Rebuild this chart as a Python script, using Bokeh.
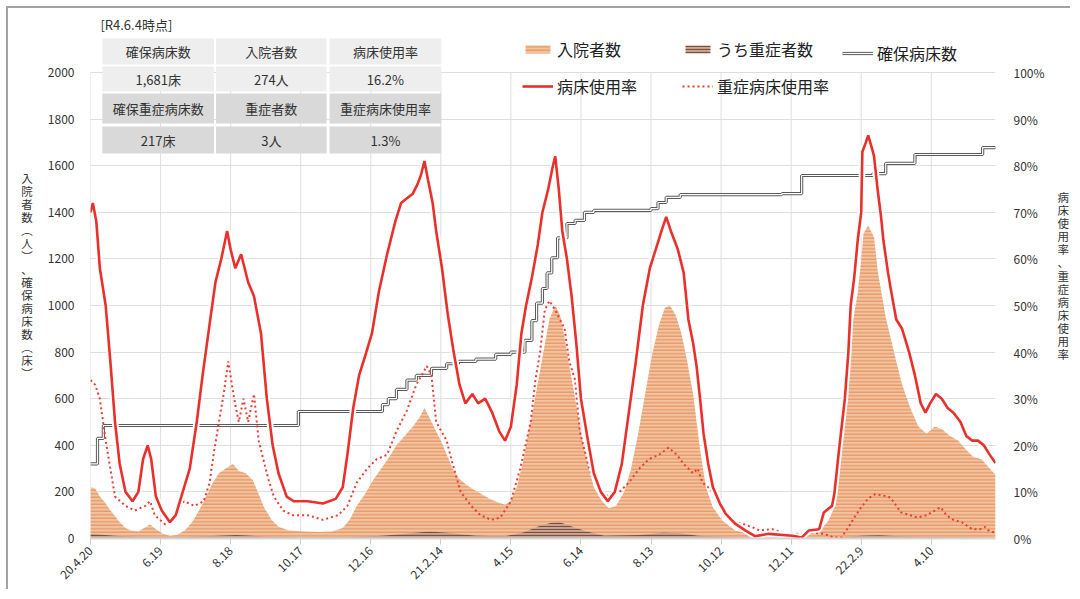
import math
from bokeh.plotting import figure
from bokeh.models import (Range1d, LinearAxis, FixedTicker, PrintfTickFormatter,
                          Legend, LegendItem, ColumnDataSource)
from bokeh.core.properties import value
from bokeh.embed import file_html
from bokeh.resources import INLINE

FONT = "Noto Sans CJK JP"

# ------------------------------------------------------------------ data
# x = days since 2020-04-20
tick_days = [0, 60, 120, 180, 240, 300, 360, 420, 480, 540, 600, 660, 720]
tick_labels = ["20.4.20", "6.19", "8.18", "10.17", "12.16", "21.2.14", "4.15",
               "6.14", "8.13", "10.12", "12.11", "22.2.9", "4.10"]

# 入院者数 (persons)
inpatient_day = [0, 4, 8, 13, 17, 21, 25, 30, 34, 41, 46, 51, 56, 62, 68, 74, 81, 87, 93, 99,
                 105, 110, 116, 122, 127, 133, 139, 144, 149, 155, 161, 169, 182, 195, 207,
                 216, 222, 228, 235, 242, 249, 256, 262, 269, 276, 282, 286, 290, 294, 300,
                 305, 310, 315, 322, 328, 335, 342, 349, 355, 360, 365, 370, 375, 380, 385,
                 389, 393, 398, 402, 406, 410, 415, 420, 425, 431, 438, 444, 450, 457, 463,
                 469, 475, 481, 487, 492, 496, 501, 506, 511, 516, 522, 527, 533, 541, 552,
                 565, 590, 610, 626, 632, 637, 640, 646, 651, 657, 660, 662, 666, 671, 674,
                 677, 681, 689, 695, 702, 709, 716, 723, 729, 736, 743, 750, 756, 763, 770, 775]
inpatient = [220, 215, 180, 150, 120, 95, 70, 45, 35, 30, 45, 60, 40, 20, 12, 15, 35, 70, 120, 180,
             240, 280, 300, 320, 290, 280, 250, 190, 130, 80, 50, 35, 30, 28, 30,
             45, 80, 140, 190, 250, 300, 350, 400, 440, 480, 520, 560, 520, 480, 420,
             360, 300, 260, 230, 210, 190, 170, 155, 145, 160, 220, 320, 450, 580, 720,
             830, 940, 1000, 960, 860, 740, 600, 450, 330, 220, 160, 130, 140, 200, 300,
             450, 620, 790, 920, 990, 1000, 960, 880, 760, 620, 380, 220, 133, 77, 34,
             18, 12, 15, 40, 77, 133, 219, 549, 880, 1050, 1193, 1309, 1343, 1292, 1150,
             1064, 948, 780, 660, 560, 480, 450, 480, 470, 440, 420, 380, 350, 340, 300, 274]

# うち重症者数 (persons)
severe_day = [0, 20, 40, 80, 110, 125, 150, 180, 220, 250, 270, 290, 305, 330, 355, 370, 385,
              395, 402, 410, 425, 440, 470, 490, 505, 520, 545, 600, 640, 660, 675, 700, 740, 775]
severe = [20, 12, 6, 5, 12, 15, 8, 4, 5, 12, 20, 30, 25, 12, 10, 25, 55,
          68, 70, 55, 30, 12, 15, 25, 22, 12, 5, 2, 3, 12, 14, 8, 5, 3]

# 確保病床数 (beds, step changes)
beds_day = [0, 6, 11, 178, 250, 255, 262, 271, 279, 292, 305, 315, 330, 347, 360, 372, 378,
            382, 387, 391, 395, 400, 408, 415, 423, 431, 480, 486, 493, 505, 592, 609, 670,
            681, 706, 764, 775]
beds = [320, 430, 485, 545, 575, 600, 640, 680, 700, 730, 750, 760, 770, 790, 800, 850, 935,
        1010, 1073, 1140, 1205, 1290, 1352, 1365, 1400, 1408, 1416, 1442, 1464, 1476, 1480, 1558, 1566,
        1610, 1648, 1678, 1681]

# 病床使用率 (%)
usage_day = [0, 2, 5, 8, 13, 17, 21, 25, 30, 36, 41, 45, 49, 52, 56, 61, 68, 73, 79, 85, 91, 96,
             102, 107, 112, 117, 120, 124, 129, 135, 140, 146, 151, 156, 161, 168, 174, 186,
             199, 210, 216, 220, 225, 230, 235, 241, 247, 254, 261, 266, 271, 276, 280, 283,
             286, 289, 293, 296, 301, 306, 311, 316, 321, 327, 332, 338, 344, 350, 355, 360,
             365, 369, 373, 378, 383, 387, 392, 396, 398, 401, 404, 408, 412, 416, 420, 426,
             431, 437, 443, 449, 455, 461, 467, 473, 479, 484, 489, 493, 497, 503, 508, 512,
             516, 519, 522, 525, 529, 533, 539, 544, 552, 561, 569, 581, 601, 609, 615, 624,
             628, 635, 637, 641, 646, 649, 651, 654, 657, 660, 661, 664, 666, 670, 671, 674,
             677, 679, 683, 685, 690, 695, 701, 706, 711, 715, 719, 724, 729, 734, 739, 745,
             750, 755, 760, 765, 770, 775]
usage = [70, 72, 68, 58, 50, 38, 25, 16, 10, 8, 10, 17, 20, 17, 9, 6, 3.5, 5, 10, 15, 25, 35,
         46, 55, 60, 66, 62, 58, 61, 55, 52, 44, 30, 20, 14, 9, 8, 8,
         7.5, 8.5, 11, 18, 28, 35, 39, 44, 53, 61, 68, 72, 73, 74, 76, 78,
         81, 77, 72, 66, 58, 48, 40, 33, 29, 31, 29, 30, 27, 23, 21, 24,
         33, 44, 50, 56, 63, 70, 75, 80, 82, 75, 66, 60, 52, 42, 30, 21,
         14, 10, 8, 10, 16, 27, 38, 50, 58, 62, 66, 69, 66, 62, 57, 47,
         42, 37, 30, 22.5, 16, 11, 7.5, 5.3, 3.2, 1.7, 0.5, 1, 0.6, 0.2, 1.7, 2,
         5.6, 7, 9.6, 19, 30, 40, 50, 56, 64, 70, 83, 85, 86.5, 83, 82, 75,
         69, 64, 57, 54, 47, 45, 40, 35, 29, 27, 29, 31, 30, 28, 27, 25,
         22, 21, 21, 20, 18, 16.2]

# 重症病床使用率 (%)
sev_usage_day = [0, 4, 8, 13, 17, 21, 30, 38, 47, 51, 55, 64, 72, 80, 89, 97, 102, 106, 110,
                 114, 118, 123, 127, 131, 135, 140, 144, 148, 152, 157, 165, 173, 186, 199,
                 212, 220, 228, 237, 245, 254, 262, 271, 279, 288, 292, 296, 305, 309, 317,
                 326, 334, 343, 351, 360, 368, 377, 381, 385, 389, 393, 398, 402, 406, 410,
                 415, 419, 423, 427, 436, 444, 453, 461, 470, 478, 487, 495, 502, 508, 516,
                 520, 524, 529, 533, 537, 541, 550, 558, 567, 573, 584, 592, 601, 609, 617,
                 628, 637, 643, 649, 654, 660, 666, 672, 679, 685, 694, 702, 708, 716, 723,
                 728, 733, 739, 746, 755, 762, 766, 770, 775]
sev_usage = [34, 33, 30, 21, 15, 9, 7, 6, 7, 8, 5, 3, 5, 8, 7, 8, 12, 19, 25,
             31, 38, 30, 25, 30, 25, 31, 21, 17, 13, 9, 6, 5, 5, 4,
             5, 7, 12, 15, 17, 18, 23, 27.5, 33, 37, 35, 25, 21, 17, 10,
             7, 5, 4, 4.5, 8, 15, 25, 34, 40, 49, 51, 49, 47, 45, 38,
             34, 23, 19, 15, 10, 9, 10, 12, 15, 17, 18, 19.5, 18, 16, 14,
             15, 12, 11, 10, 8, 6, 3.5, 3.2, 2.4, 1.7, 2, 1.3, 1, 1, 1.3,
             1, 0.2, 0.2, 2.4, 4.5, 6.7, 8.6, 9.5, 9.2, 8.8, 5.6, 5, 4.5, 5, 6,
             6.7, 5, 4, 3.5, 2, 2, 2.5, 1.5, 1.3]

as_of = "[R4.6.4時点]"
table_rows = [
    ["確保病床数", "入院者数", "病床使用率"],
    ["1,681床", "274人", "16.2%"],
    ["確保重症病床数", "重症者数", "重症病床使用率"],
    ["217床", "3人", "1.3%"],
]
legend_labels = ["入院者数", "うち重症者数", "確保病床数", "病床使用率", "重症病床使用率"]
left_title = "入院者数︵人︶、確保病床数︵床︶"
right_title = "病床使用率、重症病床使用率"

# ------------------------------------------------------------------ layout
OFF = 8                            # page offset of the figure content (margin + border)
W, H = 1064, 583
ML, MR, MT, MB = 82, 66, 4, 53
FRAME_W = W - ML - MR
FRAME_H = H - MT - MB
X_END = 775
PX_2000 = 466                      # pixel height of the 0..2000 span
Y_END = 2000 * FRAME_H / PX_2000
PCT_END = Y_END / 20.0
PAGE_LEFT = OFF + ML
PAGE_BOTTOM = OFF + H - MB


def xd(px):
    return (px - PAGE_LEFT) * X_END / FRAME_W


def yd(py):
    return (PAGE_BOTTOM - py) * Y_END / FRAME_H


p = figure(width=W, height=H, x_range=Range1d(0, X_END), y_range=Range1d(0, Y_END),
           output_backend="svg", toolbar_location=None,
           min_border_left=ML, min_border_right=MR, min_border_top=MT, min_border_bottom=MB)
p.styles = {"margin-left": "6px", "margin-top": "6px",
            "border-left": "2px solid #a3a3a3", "border-top": "2px solid #a3a3a3"}
p.extra_y_ranges = {"pct": Range1d(0, PCT_END)}
p.outline_line_color = None
p.background_fill_color = "white"
p.border_fill_color = "white"

GRID = "#dedede"
TXT = "#333333"
p.xgrid.visible = False
p.ygrid.ticker = FixedTicker(ticks=list(range(0, 2001, 200)))
p.ygrid.grid_line_color = GRID

# x axis
xa = p.xaxis[0]
xa.ticker = FixedTicker(ticks=tick_days)
xa.major_label_overrides = {d: t for d, t in zip(tick_days, tick_labels)}
xa.major_label_orientation = math.pi / 4
xa.axis_line_color = "#d6d6d6"
xa.axis_line_width = 2
xa.major_tick_line_color = "#cccccc"
xa.major_tick_out = 6
xa.major_tick_in = 0
xa.minor_tick_line_color = None
xa.major_label_text_font = FONT
xa.major_label_text_font_size = "12px"
xa.major_label_text_color = TXT
xa.major_label_standoff = 4

# left axis
ya = p.yaxis[0]
ya.ticker = FixedTicker(ticks=list(range(0, 2001, 200)))
ya.axis_line_color = None
ya.major_tick_line_color = None
ya.minor_tick_line_color = None
ya.major_label_text_font = FONT
ya.major_label_text_font_size = "12px"
ya.major_label_text_color = TXT
ya.major_label_standoff = 10
ya.axis_label = "\n".join(left_title)
ya.axis_label_orientation = "horizontal"
ya.axis_label_text_font = FONT
ya.axis_label_text_font_size = "11.5px"
ya.axis_label_text_font_style = "normal"
ya.axis_label_text_color = TXT
ya.axis_label_text_line_height = 0.815
ya.axis_label_standoff = 12

# right axis
ra = LinearAxis(y_range_name="pct", ticker=FixedTicker(ticks=list(range(0, 101, 10))),
                formatter=PrintfTickFormatter(format="%d%%"))
ra.axis_line_color = None
ra.major_tick_line_color = None
ra.minor_tick_line_color = None
ra.major_label_text_font = FONT
ra.major_label_text_font_size = "12px"
ra.major_label_text_color = TXT
ra.major_label_standoff = 12
ra.axis_label = "\n".join(right_title)
ra.axis_label_orientation = "horizontal"
ra.axis_label_text_font = FONT
ra.axis_label_text_font_size = "11.5px"
ra.axis_label_text_font_style = "normal"
ra.axis_label_text_color = TXT
ra.axis_label_text_line_height = 0.815
ra.axis_label_standoff = 10
p.add_layout(ra, "right")

# vertical grid lines (0..2000 only)
p.segment(x0=tick_days, y0=[0] * len(tick_days), x1=tick_days, y1=[2000] * len(tick_days),
          line_color=GRID, line_width=1)

# areas
src_in = ColumnDataSource(dict(x=inpatient_day, y=inpatient))
r_in = p.varea(x="x", y1=0, y2="y", source=src_in, fill_color="#f4c29f",
               hatch_pattern="horizontal_line", hatch_color="#dc8a52", hatch_scale=3.5,
               hatch_weight=1.2, hatch_alpha=0.8)
src_sev = ColumnDataSource(dict(x=severe_day, y=severe))
r_sev = p.varea(x="x", y1=0, y2="y", source=src_sev, fill_color="#c9a595",
                hatch_pattern="horizontal_line", hatch_color="#7d4f3e", hatch_scale=3,
                hatch_weight=1.2)

# beds (double grey line)
r_b1 = p.step(beds_day, beds, mode="after", line_color="#5a5a5a", line_width=3.2)
r_b2 = p.step(beds_day, beds, mode="after", line_color="white", line_width=1.2)

# severe usage (dotted)
r_sevuse = p.line(sev_usage_day, sev_usage, y_range_name="pct", line_color="#ee3a32",
                  line_width=2, line_dash="2 3")

# usage (solid, white halo)
p.line(usage_day, usage, y_range_name="pct", line_color="white", line_width=6.5)
r_use = p.line(usage_day, usage, y_range_name="pct", line_color="#e9302a", line_width=2.6)

# table
col_px = [(102, 215), (217, 329), (332, 445)]
row_px = [(38, 64), (66, 91), (93, 123), (126, 153)]
row_colors = ["#eeeeee", "#eeeeee", "#d9d9d9", "#d9d9d9"]
ql, qr, qt, qb, qc, tx, ty, tt = [], [], [], [], [], [], [], []
for ri, (rt, rb) in enumerate(row_px):
    for ci, (cl, cr) in enumerate(col_px):
        ql.append(xd(cl)); qr.append(xd(cr)); qt.append(yd(rt)); qb.append(yd(rb))
        qc.append(row_colors[ri])
        tx.append(xd((cl + cr) / 2)); ty.append(yd((rt + rb) / 2)); tt.append(table_rows[ri][ci])
p.quad(left=ql, right=qr, top=qt, bottom=qb, fill_color=qc, line_color=None)
p.text(x=tx, y=ty, text=tt, text_font=value(FONT), text_font_size="13px",
       text_color=TXT, text_align="center", text_baseline="middle")
p.text(x=[xd(100)], y=[yd(24)], text=[as_of], text_font=value(FONT), text_font_size="13px",
       text_color=TXT, text_align="left", text_baseline="middle")

# legends: three columns placed like the reference
leg_style = dict(orientation="vertical", glyph_width=31, glyph_height=10, label_standoff=4,
                 spacing=13, padding=0, margin=0, border_line_color=None,
                 background_fill_alpha=0, label_text_font=FONT, label_text_font_size="16px",
                 label_text_color="#222222", label_height=20)
leg_cols = [
    ([LegendItem(label=legend_labels[0], renderers=[r_in]),
      LegendItem(label=legend_labels[3], renderers=[r_use])], 522),
    ([LegendItem(label=legend_labels[1], renderers=[r_sev]),
      LegendItem(label=legend_labels[4], renderers=[r_sevuse])], 682),
    ([LegendItem(label=legend_labels[2], renderers=[r_b1, r_b2])], 842),
]
ROW1_TOP = 45
for its, left_px in leg_cols:
    n = len(its)
    height = n * 20 + (n - 1) * 13
    bottom_px = ROW1_TOP + height
    lg = Legend(items=its, location=(left_px - PAGE_LEFT, PAGE_BOTTOM - bottom_px), **leg_style)
    p.add_layout(lg)

open("out.html", "w").write(file_html(p, INLINE))
